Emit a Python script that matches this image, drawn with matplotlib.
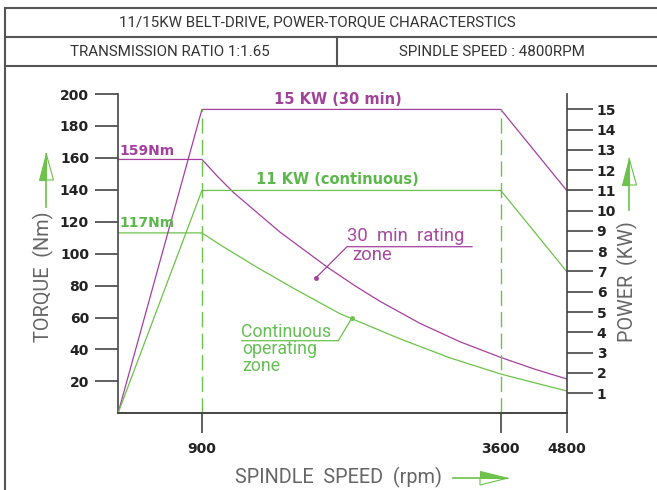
import numpy as np
import matplotlib
matplotlib.use("Agg")
import matplotlib.pyplot as plt
from matplotlib.lines import Line2D
from matplotlib.patches import Polygon

# ---------------- data ----------------
speed_break = [0, 900, 3600, 4800]          # rpm
x_ticks = [900, 3600, 4800]
torque_ticks = [20, 40, 60, 80, 100, 120, 140, 160, 180, 200]
power_ticks = list(range(1, 16))

power_30_speed = [0, 900, 3600, 4800]
power_30 = [0, 15, 15, 11]
power_cont_speed = [0, 900, 3600, 4800]
power_cont = [0, 11, 11, 7]

torque_30_speed = [0, 900, 1043, 1185, 1607, 2034, 2284, 2510, 2871, 3232, 3600, 4205, 4800]
torque_30 = [159, 159, 148.2, 138.3, 113.4, 91.5, 79.8, 70.1, 56.3, 44.8, 35.0, 27.8, 21.5]
torque_cont_speed = [0, 900, 1065, 1399, 1743, 2149, 2691, 3142, 3600, 4205, 4800]
torque_cont = [113, 113, 105.5, 91.4, 77.7, 62.3, 46.6, 34.7, 24.6, 19.2, 14.0]

# ---------------- style ----------------
W, H = 657, 490
MAG = '#a5409f'
GRN = '#6cc24a'
GRN_T = '#5cb84c'
AXC = '#444444'
CAD = ['Roboto', 'Liberation Sans', 'DejaVu Sans']
CADW = 'normal'
BOLD = ['DejaVu Sans']
PT = 0.72  # points per pixel at 100 dpi

# axis position mapping (piecewise, as in the drawing)
pos_break = [0, 84, 383, 449]


def fwd(x):
    return np.interp(x, speed_break, pos_break)


def inv(p):
    return np.interp(p, pos_break, speed_break)


def fx(x):
    return x / W


def fy(y):
    return 1 - y / H


fig = plt.figure(figsize=(W / 100, H / 100), dpi=100)
fig.patch.set_facecolor('white')

ax = fig.add_axes([fx(118), fy(413.3), 448.7 / W, (413.3 - 94) / H])
ax.set_xscale('function', functions=(fwd, inv))
ax.set_xlim(0, 4800)
ax.set_ylim(0, 200)
ax2 = ax.twinx()
ax2.set_ylim(0, (413.3 - 93.5) / 20.29)
ax.patch.set_alpha(0)

for a in (ax, ax2):
    a.spines['top'].set_visible(False)
    for s in a.spines.values():
        s.set_color(AXC)
        s.set_linewidth(1.2)
ax2.spines['left'].set_visible(False)
ax.spines['right'].set_visible(False)

ax.set_xticks(x_ticks)
ax.set_xticklabels([str(t) for t in x_ticks])
ax.set_yticks(torque_ticks)
ax.set_yticklabels([str(t) for t in torque_ticks])
ax2.set_yticks(power_ticks)
ax2.set_yticklabels([str(t) for t in power_ticks])
ax.xaxis.set_minor_locator(matplotlib.ticker.NullLocator())

ax.tick_params(axis='x', length=20 * PT, width=1.2, color=AXC, pad=9 * PT,
               labelsize=10, labelcolor='#222222')
ax.tick_params(axis='y', length=23 * PT, width=1.2, color=AXC, pad=6 * PT,
               labelsize=10, labelcolor='#222222')
ax2.tick_params(axis='y', length=26 * PT, width=1.2, color=AXC, pad=4 * PT,
                labelsize=10, labelcolor='#222222')
for lab in ax.get_xticklabels() + ax.get_yticklabels() + ax2.get_yticklabels():
    lab.set_fontweight('bold')
    lab.set_family(BOLD)

# curves
ax2.plot(power_30_speed, power_30, color=MAG, lw=0.9)
ax2.plot(power_cont_speed, power_cont, color=GRN, lw=0.9)
ax.plot(torque_30_speed, torque_30, color=MAG, lw=0.9)
ax.plot(torque_cont_speed, torque_cont, color=GRN, lw=0.9)
for xv in (900, 3600):
    ax2.plot([xv, xv], [0, 15], color=GRN, lw=1.0, ls=(0, (11, 4.5)))

# in-plot labels
fig.text(fx(119), fy(151), '159Nm', color=MAG, fontsize=10, fontweight='bold',
         family=BOLD, ha='left', va='center')
fig.text(fx(119), fy(223), '117Nm', color=GRN_T, fontsize=10, fontweight='bold',
         family=BOLD, ha='left', va='center')
fig.text(fx(338), fy(100), '15 KW (30 min)', color='#a0449a', fontsize=10.5,
         fontweight='bold', family=BOLD, ha='center', va='center')
fig.text(fx(337.5), fy(180), '11 KW (continuous)', color=GRN_T, fontsize=10.5,
         fontweight='bold', family=BOLD, ha='center', va='center')

# zone notes
ZC_M = '#a64aa0'
ZC_G = '#66bf55'
fig.text(fx(347), fy(236), '30  min  rating', color=ZC_M, fontsize=13.3,
         family=CAD, weight=CADW, ha='left', va='center')
fig.text(fx(352), fy(255), 'zone', color=ZC_M, fontsize=13.3,
         family=CAD, weight=CADW, ha='left', va='center')
fig.add_artist(Line2D([fx(316), fx(347), fx(472)], [fy(277.7), fy(246.7), fy(246.7)],
                      color=MAG, lw=0.9, transform=fig.transFigure))
fig.add_artist(Line2D([fx(316)], [fy(277.7)], marker='o', ms=2.5, color=MAG,
                      transform=fig.transFigure))

fig.text(fx(241), fy(332), 'Continuous', color=ZC_G, fontsize=12.8,
         family=CAD, weight=CADW, ha='left', va='center')
fig.text(fx(242), fy(348.5), 'operating', color=ZC_G, fontsize=12.8,
         family=CAD, weight=CADW, ha='left', va='center')
fig.text(fx(242), fy(366), 'zone', color=ZC_G, fontsize=12.8,
         family=CAD, weight=CADW, ha='left', va='center')
fig.add_artist(Line2D([fx(351.7), fx(338.3), fx(241.7)], [fy(318.3), fy(340.7), fy(340.7)],
                      color=GRN, lw=0.9, transform=fig.transFigure))
fig.add_artist(Line2D([fx(351.7)], [fy(318.3)], marker='o', ms=2.5, color=GRN,
                      transform=fig.transFigure))

# axis titles
AT = '#666666'
fig.text(fx(43), fy(277), 'TORQUE  (Nm)', rotation=90, color=AT, fontsize=14.3,
         family=CAD, weight=CADW, ha='center', va='center')
fig.text(fx(627), fy(282), 'POWER  (KW)', rotation=90, color=AT, fontsize=14.3,
         family=CAD, weight=CADW, ha='center', va='center')
fig.text(fx(338.5), fy(477), 'SPINDLE  SPEED  (rpm)', color=AT, fontsize=14.3,
         family=CAD, weight=CADW, ha='center', va='center')


def vert_arrow(x, y_tail, y_base, y_tip, half=7.5):
    fig.add_artist(Line2D([fx(x), fx(x)], [fy(y_tail), fy(y_base)], color=GRN, lw=1.2,
                          transform=fig.transFigure))
    fig.add_artist(Polygon([[fx(x - half), fy(y_base)], [fx(x), fy(y_base)], [fx(x), fy(y_tip)]],
                           closed=True, facecolor=GRN, edgecolor=GRN, lw=0.8,
                           transform=fig.transFigure))
    fig.add_artist(Polygon([[fx(x), fy(y_base)], [fx(x + half), fy(y_base)], [fx(x), fy(y_tip)]],
                           closed=True, facecolor='none', edgecolor=GRN, lw=0.8,
                           transform=fig.transFigure))


def horiz_arrow(y, x_tail, x_base, x_tip, half=7):
    fig.add_artist(Line2D([fx(x_tail), fx(x_base)], [fy(y), fy(y)], color=GRN, lw=1.2,
                          transform=fig.transFigure))
    fig.add_artist(Polygon([[fx(x_base), fy(y - half)], [fx(x_base), fy(y)], [fx(x_tip), fy(y)]],
                           closed=True, facecolor=GRN, edgecolor=GRN, lw=0.8,
                           transform=fig.transFigure))
    fig.add_artist(Polygon([[fx(x_base), fy(y)], [fx(x_base), fy(y + half)], [fx(x_tip), fy(y)]],
                           closed=True, facecolor='none', edgecolor=GRN, lw=0.8,
                           transform=fig.transFigure))


vert_arrow(46, 207, 180, 153)
vert_arrow(629, 210, 185, 158)
horiz_arrow(478, 453, 480, 508)

# title block
LC = '#555555'
for (x0, y0, x1, y1) in [(5, 8, 657, 8), (5, 37, 657, 37), (5, 66, 657, 66),
                         (5, 8, 5, 490), (337, 37, 337, 66)]:
    fig.add_artist(Line2D([fx(x0), fx(x1)], [fy(y0), fy(y1)], color=LC, lw=1.5,
                          transform=fig.transFigure))
TS = 10.9
fig.text(fx(317), fy(22.5), '11/15KW BELT-DRIVE, POWER-TORQUE CHARACTERSTICS',
         color='#333333', fontsize=TS, family=CAD, ha='center', va='center')
fig.text(fx(170), fy(51.5), 'TRANSMISSION RATIO 1:1.65',
         color='#333333', fontsize=TS, family=CAD, ha='center', va='center')
fig.text(fx(492), fy(51.5), 'SPINDLE SPEED : 4800RPM',
         color='#333333', fontsize=TS, family=CAD, ha='center', va='center')

fig.savefig('out.png', dpi=100, facecolor='white')
